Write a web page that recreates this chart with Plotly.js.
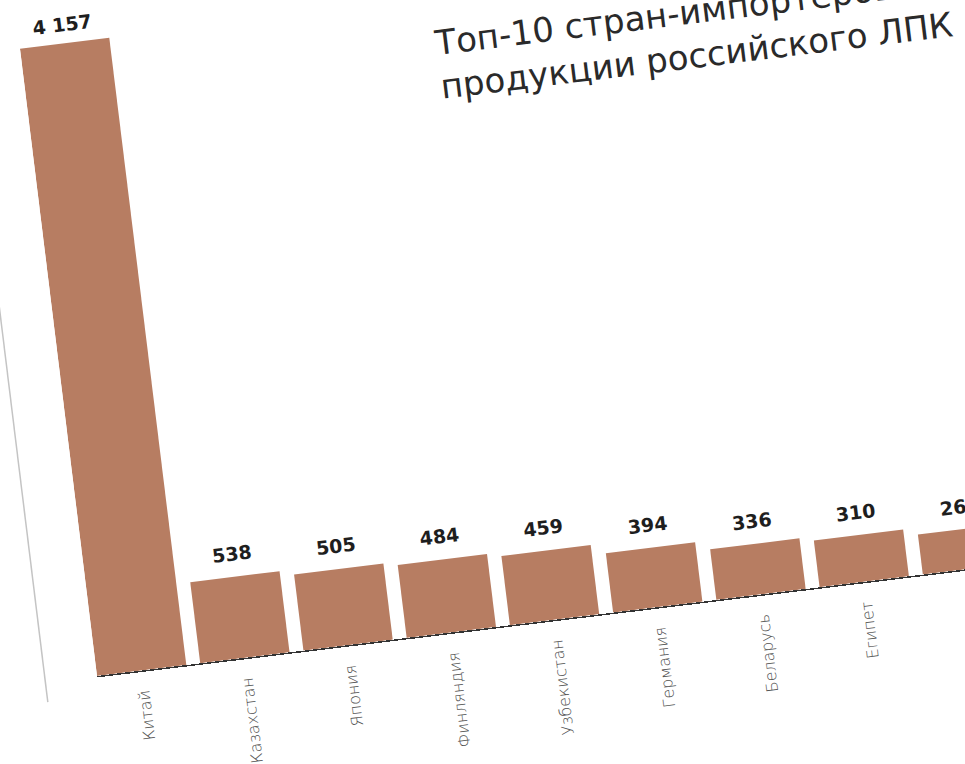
<!DOCTYPE html>
<html>
<head>
<meta charset="utf-8">
<script src="https://cdn.plot.ly/plotly-3.0.1.min.js"></script>
<style>
  html, body { margin:0; padding:0; width:965px; height:764px; overflow:hidden; background:#ffffff; }
  #chart { position:absolute; left:37px; top:-24px; width:1009px; height:850px;
           transform-origin:60px 700px; transform:rotate(-7deg); }
</style>
</head>
<body>
<div id="chart"></div>
<script>
// ---- data ----
const categories = ['Китай','Казахстан','Япония','Финляндия','Узбекистан','Германия','Беларусь','Египет','Турция'];
const values = [4157, 538, 505, 484, 459, 394, 336, 310, 265];
const titleLines = ['Топ-10 стран-импортеров', 'продукции российского ЛПК'];

function fmt(v) {
  return String(v).replace(/\B(?=(\d{3})+(?!\d))/g, ' ');
}

const ML = 60, MT = 40, PW = 929, PH = 660, MB = 150, MR = 20;

const trace = {
  type: 'bar',
  x: categories,
  y: values,
  marker: { color: '#b77d62', line: { width: 0 } },
  hoverinfo: 'skip'
};

const valueLabels = categories.map((c, i) => ({
  x: c, y: values[i], xref: 'x', yref: 'y',
  text: fmt(values[i]), showarrow: false,
  yanchor: 'bottom', yshift: i === 0 ? 6 : 10,
  font: { family: 'DejaVu Sans', size: 19, color: '#1e1e1e', weight: 'bold' }
}));

const titleAnn = {
  xref: 'paper', yref: 'paper', x: 410 / PW, y: (597 + 12) / PH,
  xanchor: 'left', yanchor: 'top', align: 'left', showarrow: false,
  text: titleLines.join('<br>'),
  font: { family: 'DejaVu Sans', size: 34, color: '#2a2a2a' }
};

const layout = {
  width: ML + PW + MR, height: MT + PH + MB,
  margin: { l: ML, r: MR, t: MT, b: MB, pad: 0 },
  paper_bgcolor: '#ffffff', plot_bgcolor: '#ffffff',
  showlegend: false, hovermode: false,
  bargap: 0.135,
  xaxis: {
    type: 'category', range: [-0.4325, 8.5],
    showline: true, linecolor: '#333333', linewidth: 1.5,
    showgrid: false, zeroline: false, ticks: '',
    tickangle: -90, ticklabelstandoff: 12,
    tickfont: { family: 'DejaVu Sans', size: 16, color: '#505050', weight: 300 }
  },
  yaxis: { range: [0, 4157 * PH / 632], visible: false, showgrid: false, zeroline: false },
  annotations: valueLabels.concat([titleAnn]),
  shapes: [{
    type: 'line', xref: 'paper', yref: 'paper',
    x0: -52 / PW, x1: -52 / PW, y0: -20 / PH, y1: 1.05,
    line: { color: '#c4c4c4', width: 1.5 }
  }]
};

Plotly.newPlot('chart', [trace], layout, { displayModeBar: false, staticPlot: true });
</script>
</body>
</html>
